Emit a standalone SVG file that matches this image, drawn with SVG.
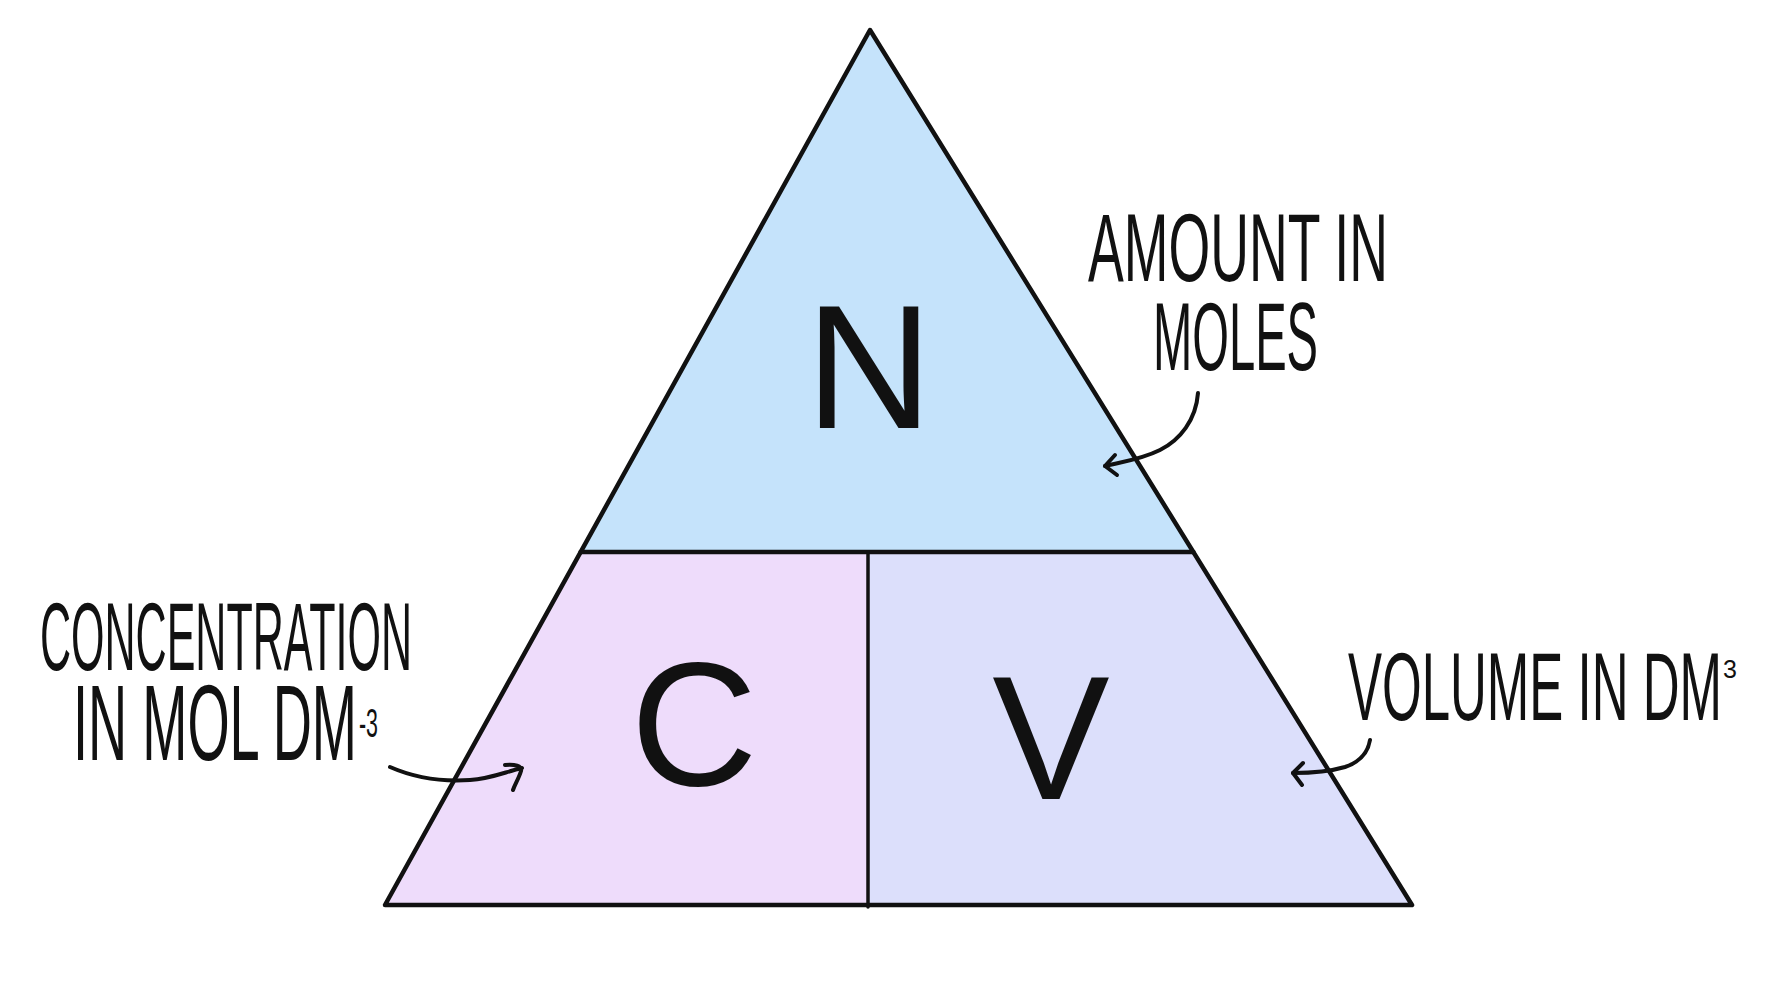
<svg xmlns="http://www.w3.org/2000/svg" width="1789" height="1000" viewBox="0 0 1789 1000">
<defs>
<style>
.edge{fill:none;stroke:#111;stroke-width:4.5;stroke-linejoin:round;stroke-linecap:round}
.big{font-family:"Liberation Sans",Arial,sans-serif;font-size:176px;fill:#111;text-anchor:middle}
.hand{font-family:"Liberation Sans Narrow","Liberation Sans",Arial,sans-serif;font-size:96px;fill:#111}
.arrow{fill:none;stroke:#111;stroke-width:4;stroke-linecap:round;stroke-linejoin:round}
</style>
</defs>
<rect width="1789" height="1000" fill="#ffffff"/>
<g id="node-n">
<polygon points="870,30 580.6,552 1193.4,552" fill="#c5e3fb"/>
<text class="big" x="869" y="428">N</text>
</g>
<g id="node-c">
<polygon points="580.6,552 868,552 868,905 385,905" fill="#eedcfb"/>
<text class="big" x="694" y="785">C</text>
</g>
<g id="node-v">
<polygon points="868,552 1193.4,552 1412,905 868,905" fill="#dcdffb"/>
<text class="big" x="1051" y="799">V</text>
</g>
<g id="outline">
<polygon class="edge" points="870,30 1412,905 385,905"/>
<line class="edge" x1="580.6" y1="552" x2="1193.4" y2="552"/>
<line class="edge" x1="868" y1="554" x2="868" y2="907" style="stroke-width:3.5"/>
</g>
<g id="label-n">
<text class="hand" x="1088" y="281" textLength="300" lengthAdjust="spacingAndGlyphs">AMOUNT IN</text>
<text class="hand" x="1153" y="370" textLength="165" lengthAdjust="spacingAndGlyphs">MOLES</text>
</g>
<g id="label-c">
<text class="hand" x="40" y="670" textLength="372" lengthAdjust="spacingAndGlyphs">CONCENTRATION</text>
<text class="hand" x="73" y="760" textLength="284" lengthAdjust="spacingAndGlyphs" style="font-size:108px">IN MOL DM</text>
<text class="hand" x="359" y="737" style="font-size:40px" textLength="19" lengthAdjust="spacingAndGlyphs">-3</text>
</g>
<g id="label-v">
<text class="hand" x="1348" y="720" textLength="374" lengthAdjust="spacingAndGlyphs">VOLUME IN DM</text>
<text class="hand" x="1723" y="678" style="font-size:25px">3</text>
</g>
<g id="connectors">
<path class="arrow" d="M1198,393 C1196,420 1180,440 1160,450 C1140,460 1120,462 1105,466"/>
<path class="arrow" d="M1115,455 L1105,466 L1117,475"/>
<path class="arrow" d="M390,767 C415,778 440,782 470,780 C490,779 505,772 522,768"/>
<path class="arrow" d="M505,765 C515,764 522,766 521,771 C519,778 515,784 513,790"/>
<path class="arrow" d="M1370,740 C1368,752 1360,762 1345,767 C1328,772 1310,773 1293,773"/>
<path class="arrow" d="M1303,763 L1293,773 L1302,785"/>
</g>
</svg>
